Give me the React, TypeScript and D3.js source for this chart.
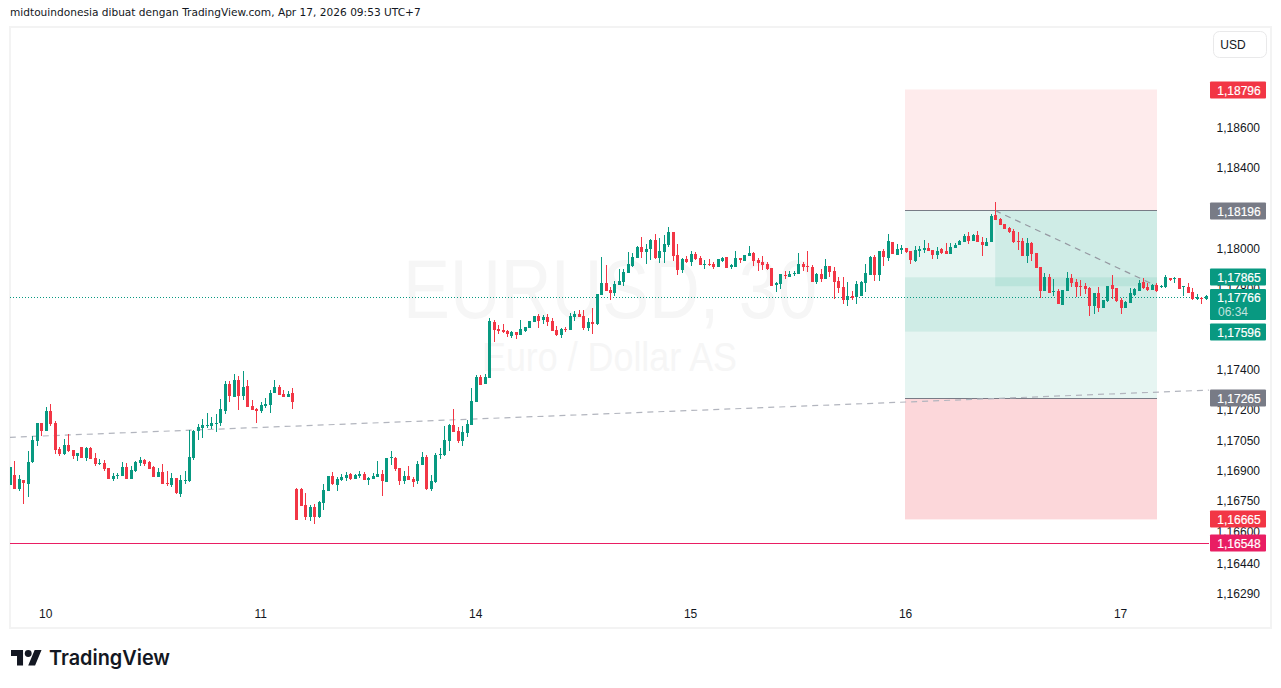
import React from "react";
import * as d3 from "d3";

// bars as [open, high, low, close], price in 1e-5 units
const barsApr9 = [[116834, 116925, 116834, 116925]];
const barsApr10 = [
  [116884,116953,116814,116814],[116814,116884,116804,116864],[116859,116859,116740,116844],[116839,117003,116775,116948],
  [116948,117077,116943,117057],[117052,117142,117027,117142],[117142,117142,117077,117102],[117102,117221,117102,117201],
  [117201,117236,117127,117137],[117142,117151,116988,117008],[117013,117023,116978,116988],[116988,117062,116983,117032],
  [117032,117087,116998,117003],[117008,117008,116963,116978],[116978,116993,116953,116993],[117023,117023,116968,116968],
  [116968,117023,116953,117018],[117018,117023,116963,116963],[116968,116993,116928,116938],[116938,116963,116933,116943],
  [116943,116958,116904,116913],[116918,116918,116864,116864],[116864,116894,116854,116879],[116879,116894,116864,116884],
  [116879,116948,116879,116923],[116923,116943,116864,116864],[116864,116928,116864,116908],[116904,116953,116899,116948],
  [116943,116973,116928,116958],[116958,116963,116928,116938],[116948,116953,116913,116913],[116923,116928,116874,116874],
  [116874,116918,116874,116899],[116899,116938,116839,116839],[116844,116904,116829,116839],[116834,116894,116824,116869],
  [116869,116869,116789,116794],[116789,116884,116775,116859],[116854,116904,116839,116859],[116854,117107,116849,116973],
  [116968,117107,116958,117102],[117102,117137,117057,117122],[117117,117161,117067,117132],[117127,117191,117117,117132],
  [117127,117171,117112,117142],[117137,117186,117097,117142],[117142,117261,117127,117211],[117201,117350,117186,117335],
  [117335,117350,117246,117275],[117270,117385,117270,117355],[117355,117375,117206,117275],[117275,117399,117256,117320],
  [117325,117355,117221,117221],[117226,117256,117206,117206],[117211,117216,117142,117201],
];
const barsApr11 = [
  [117201,117246,117191,117231],[117226,117266,117216,117236],[117231,117305,117191,117290],[117290,117355,117290,117320],
  [117320,117330,117280,117280],[117285,117305,117270,117270],[117270,117300,117270,117285],[117290,117315,117211,117246],
  [116815,116820,116661,116661],[116815,116820,116731,116731],[116736,116795,116661,116676],[116676,116736,116656,116726],
  [116726,116741,116641,116676],[116676,116755,116671,116750],[116745,116840,116711,116810],[116805,116879,116805,116879],
  [116879,116899,116835,116840],[116835,116874,116805,116864],[116859,116889,116855,116874],[116869,116899,116855,116884],
  [116889,116894,116859,116864],[116864,116889,116864,116884],[116879,116904,116869,116889],[116889,116899,116859,116859],
  [116859,116874,116835,116869],[116864,116894,116864,116879],[116874,116954,116874,116889],[116889,116909,116780,116855],
  [116850,116969,116850,116969],[116969,117003,116934,116974],[116969,116974,116904,116914],[116919,116919,116835,116855],
  [116855,116904,116840,116879],[116879,116929,116859,116859],[116864,116874,116825,116850],[116855,116954,116840,116939],
  [116934,116998,116934,116974],[116974,116984,116810,116815],[116815,116884,116805,116855],[116850,116993,116845,116984],
  [116984,117018,116964,116988],[116984,117127,116979,117058],[117053,117137,117003,117132],[117132,117212,117098,117098],
  [117103,117122,117043,117053],[117053,117127,117028,117098],[117093,117157,117073,117137],[117132,117316,117132,117251],
];
const barsApr14 = [
  [117246,117380,117246,117370],[117370,117380,117331,117331],[117336,117385,117336,117370],[117365,117663,117365,117648],
  [117643,117653,117544,117603],[117608,117628,117584,117599],[117603,117633,117589,117594],[117599,117603,117569,117584],
  [117574,117599,117564,117594],[117594,117594,117559,117579],[117579,117653,117579,117608],[117599,117618,117594,117618],
  [117613,117648,117613,117648],[117643,117673,117643,117673],[117673,117683,117613,117648],[117653,117678,117633,117668],
  [117668,117683,117623,117643],[117648,117663,117599,117599],[117603,117623,117574,117579],[117579,117613,117564,117608],
  [117608,117618,117594,117603],[117603,117688,117603,117673],[117668,117698,117648,117683],[117683,117703,117668,117668],
  [117673,117703,117603,117613],[117613,117663,117599,117643],[117643,117713,117584,117633],[117633,117782,117628,117782],
  [117777,117966,117777,117837],[117837,117926,117797,117797],[117802,117817,117752,117787],[117787,117847,117772,117832],
  [117827,117906,117827,117847],[117842,117906,117822,117891],[117886,117990,117886,117931],[117921,117985,117916,117966],
  [117961,118020,117961,118015],[118015,118065,117961,117990],[117990,118030,117931,118005],[118005,118055,117951,118050],
  [118050,118080,117956,117961],[117961,118060,117936,117995],[117990,118075,117936,118030],[118025,118114,118015,118090],
  [118090,118090,117946,117970],[117975,118030,117876,117901],[117901,117961,117886,117956],[117956,117970,117936,117941],
];
const barsApr15 = [
  [117941,117995,117921,117980],[117980,117990,117951,117956],[117961,117970,117926,117926],[117926,117951,117906,117931],
  [117931,117956,117921,117926],[117931,117941,117906,117916],[117916,117956,117916,117956],[117946,117966,117941,117961],
  [117966,117966,117911,117911],[117916,117931,117906,117926],[117916,117995,117916,117961],[117961,117961,117936,117951],
  [117946,117975,117946,117975],[117970,118020,117970,117985],[117985,117990,117921,117946],[117951,117961,117896,117936],
  [117941,117970,117901,117926],[117931,117941,117901,117906],[117911,117911,117822,117822],[117827,117842,117792,117837],
  [117832,117881,117807,117881],[117876,117896,117856,117871],[117866,117896,117866,117881],[117881,117896,117871,117886],
  [117881,117985,117881,117931],[117931,117941,117896,117916],[117921,117995,117891,117916],[117916,117926,117842,117842],
  [117842,117886,117832,117881],[117881,117906,117842,117856],[117856,117956,117856,117921],[117921,117921,117866,117891],
  [117896,117916,117757,117842],[117847,117866,117787,117812],[117817,117866,117732,117752],[117752,117842,117722,117772],
  [117772,117797,117752,117762],[117767,117847,117732,117832],[117772,117847,117772,117842],[117837,117931,117792,117886],
  [117876,117970,117876,117966],[117966,117975,117846,117876],[117876,117995,117846,117995],[117995,118005,117921,117966],
  [117961,118080,117946,118045],[118040,118040,117980,117980],[117975,118030,117975,118005],[118000,118025,117980,118010],
];
const barsApr16 = [
  [118010,118010,117985,117990],[117995,117995,117931,117951],[117946,118020,117941,118000],[117995,118020,117966,118005],
  [118000,118050,117985,118010],[118010,118035,117995,117995],[118000,118000,117956,117975],[117975,118015,117956,117995],
  [118005,118010,117980,117985],[117995,118035,117980,117980],[117980,118035,117980,118015],[118010,118035,118010,118025],
  [118025,118050,118025,118045],[118040,118080,118040,118070],[118070,118090,118030,118045],[118045,118080,118045,118075],
  [118075,118094,118040,118040],[118040,118065,117970,118025],[118020,118060,118020,118040],[118040,118179,118040,118169],
  [118174,118238,118149,118149],[118154,118159,118124,118124],[118129,118129,118104,118104],[118109,118114,118085,118090],
  [118094,118104,118035,118040],[118045,118090,118000,118040],[118045,118060,117970,117970],[117970,118060,117936,118035],
  [118035,118040,117946,117980],[117985,117985,117911,117911],[117916,117916,117762,117797],[117797,117886,117797,117866],
  [117866,117881,117787,117787],[117792,117856,117772,117797],[117797,117807,117732,117732],[117727,117801,117727,117801],
  [117796,117891,117796,117861],[117861,117881,117816,117836],[117841,117856,117767,117816],[117821,117851,117772,117816],
  [117821,117836,117782,117806],[117811,117816,117672,117722],[117722,117787,117682,117787],[117787,117816,117692,117712],
  [117712,117752,117712,117752],[117747,117821,117742,117821],[117826,117876,117757,117806],[117811,117811,117742,117747],
];
const barsApr17 = [
  [117752,117762,117682,117712],[117712,117747,117712,117742],[117737,117811,117737,117787],[117777,117811,117772,117806],
  [117796,117851,117796,117836],[117841,117861,117806,117811],[117816,117836,117796,117801],[117801,117831,117801,117826],
  [117826,117836,117791,117796],[117816,117826,117811,117821],[117816,117876,117811,117866],[117861,117861,117846,117851],
  [117856,117866,117836,117861],[117861,117861,117806,117806],[117816,117821,117772,117820],[117816,117836,117787,117787],
  [117791,117811,117752,117757],[117758,117782,117752,117768],[117762,117767,117732,117757],[117757,117777,117752,117772],
];

const priceTicks = [1.186, 1.184, 1.18, 1.178, 1.174, 1.172, 1.1705, 1.169, 1.1675, 1.166, 1.1644, 1.1629];
const dayTicks: [string, number][] = [["10", 7], ["11", 55], ["14", 103], ["15", 151], ["16", 199], ["17", 247]];

const stopShort = 1.18796;
const entryShort = 1.18196;
const targetShort = 1.17596;
const targetLong = 1.17865;
const entryLong = 1.17265;
const stopLong = 1.16665;
const lastPrice = 1.17766;
const levelPrice = 1.16548;
const boxStart = 199;
const boxEnd = 255;
const fillStart = 219;
const fillPrice = 1.17821;
const trendFrom: [number, number] = [-1, 1.17072];
const trendTo: [number, number] = [266.7, 1.17306];

const UP = "#089981";
const DOWN = "#F23645";
const GREY = "#787B86";
const PINK = "#E91E63";
const FONT = "'Liberation Sans', Arial, sans-serif";

const allBars = [...barsApr9, ...barsApr10, ...barsApr11, ...barsApr14, ...barsApr15, ...barsApr16, ...barsApr17];

const fmt = (p: number) => p.toFixed(5).replace(".", ",");

export default function App() {
  const x = d3.scaleLinear().domain([0, 1]).range([14.3, 18.779]);
  const y = d3.scaleLinear().domain([stopShort, levelPrice]).range([89.5, 543]);
  const py = (v: number) => y(v / 1e5);
  const crisp = (v: number) => Math.floor(v) + 0.5;

  const boxLeft = Math.floor(x(boxStart));
  const boxRight = Math.ceil(x(boxEnd));
  const boxWidth = boxRight - boxLeft;

  const labels: [number, string][] = [
    [stopShort, DOWN],
    [entryShort, GREY],
    [targetLong, UP],
    [targetShort, UP],
    [entryLong, GREY],
    [stopLong, DOWN],
    [levelPrice, PINK],
  ];

  return (
    <svg width={1281} height={688} viewBox="0 0 1281 688" style={{ position: "fixed", left: 0, top: 0, background: "#fff" }}>
      <defs>
        <clipPath id="pane">
          <rect x={10} y={28} width={1199} height={599} />
        </clipPath>
      </defs>
      <text x={10} y={16} fontFamily="'DejaVu Sans'" fontSize={10.6} fill="#131722">
        midtouindonesia dibuat dengan TradingView.com, Apr 17, 2026 09:53 UTC+7
      </text>
      <rect x={10} y={27} width={1261} height={601} fill="none" stroke="#F3F3F3" strokeWidth={2} />

      <g clipPath="url(#pane)">
        <text x={403} y={318} textLength={414} lengthAdjust="spacingAndGlyphs" fontFamily="'Liberation Sans'" fontSize={84} fill="#F6F6F6">EURUSD, 30</text>
        <text x={482} y={371} textLength={255} lengthAdjust="spacingAndGlyphs" fontFamily="'Liberation Sans'" fontSize={40} fill="#F6F6F6">Euro / Dollar AS</text>

        <rect x={boxLeft} width={boxWidth} y={y(stopShort)} height={y(entryShort) - y(stopShort)} fill={DOWN} fillOpacity={0.1} />
        <rect x={boxLeft} width={boxWidth} y={y(entryShort)} height={y(targetShort) - y(entryShort)} fill={UP} fillOpacity={0.1} />
        <rect x={boxLeft} width={boxWidth} y={y(targetLong)} height={y(entryLong) - y(targetLong)} fill={UP} fillOpacity={0.1} />
        <rect x={boxLeft} width={boxWidth} y={y(entryLong)} height={y(stopLong) - y(entryLong)} fill={DOWN} fillOpacity={0.2} />
        <rect x={x(fillStart)} width={boxRight - x(fillStart)} y={y(entryShort)} height={y(fillPrice) - y(entryShort)} fill={UP} fillOpacity={0.1} />
        <line x1={boxLeft} x2={boxRight} y1={crisp(y(entryShort))} y2={crisp(y(entryShort))} stroke={GREY} />
        <line x1={boxLeft} x2={boxRight} y1={crisp(y(entryLong))} y2={crisp(y(entryLong))} stroke={GREY} />

        <line x1={x(trendFrom[0])} y1={y(trendFrom[1])} x2={x(trendTo[0])} y2={y(trendTo[1])} stroke="#B2B5BE" strokeWidth={1.2} strokeDasharray="6,5" />
        <line x1={x(fillStart)} y1={y(entryShort)} x2={boxRight} y2={y(fillPrice)} stroke="#9598A1" strokeWidth={1.2} strokeDasharray="6,5" />

        <line x1={10} x2={1209} y1={crisp(y(lastPrice))} y2={crisp(y(lastPrice))} stroke={UP} strokeDasharray="1,2" />
        <line x1={10} x2={1209} y1={crisp(y(levelPrice))} y2={crisp(y(levelPrice))} stroke={PINK} />

        {allBars.map(([o, h, l, c], i) => {
          const cx = Math.round(x(i - 1));
          const top = Math.round(py(Math.max(o, c)));
          const bottom = Math.round(py(Math.min(o, c)));
          const fill = c >= o ? UP : DOWN;
          return (
            <g key={i} fill={fill}>
              <rect x={cx} width={1} y={Math.round(py(h))} height={Math.max(1, Math.round(py(l)) - Math.round(py(h)))} />
              <rect x={cx - 1} width={3} y={top} height={Math.max(1, bottom - top)} />
            </g>
          );
        })}
      </g>

      <g fontFamily={FONT} fontSize={12} fill="#131722">
        {priceTicks.map((p) => (
          <text key={p} x={1260} y={y(p) + 3} textAnchor="end">{fmt(p)}</text>
        ))}
        {dayTicks.map(([label, i]) => (
          <text key={label} x={x(i)} y={618} textAnchor="middle">{label}</text>
        ))}
        <rect x={1213.5} y={31.5} width={53} height={26} rx={6} fill="#fff" stroke="#E9E9EA" />
        <text x={1233} y={49} textAnchor="middle">USD</text>
      </g>

      <g fontFamily={FONT} fontSize={12} fill="#fff" stroke="#fff" strokeWidth={0.2}>
        {labels.map(([p, color]) => (
          <g key={p}>
            <rect x={1210} y={Math.round(y(p)) - 8.5} width={56} height={17} rx={1} fill={color} stroke="none" />
            <text x={1239} y={Math.round(y(p)) + 4.5} textAnchor="middle">{fmt(p)}</text>
          </g>
        ))}
        <rect x={1210} y={289} width={56} height={31} rx={1} fill={UP} stroke="none" />
        <text x={1239} y={302} textAnchor="middle">{fmt(lastPrice)}</text>
        <text x={1218} y={315.5} fillOpacity={0.75} stroke="none">06:34</text>
      </g>

      <g transform="translate(11,646.6) scale(0.86)" fill="#131722">
        <path d="M14 22H7V11H0V4h14v18zM28 22h-8l7.5-18h8L28 22z" />
        <circle cx={20} cy={8} r={4} />
      </g>
      <text x={49} y={665} textLength={121} lengthAdjust="spacingAndGlyphs" fontFamily="Inter" fontWeight={600} fontSize={20.5} fill="#131722">TradingView</text>
    </svg>
  );
}
